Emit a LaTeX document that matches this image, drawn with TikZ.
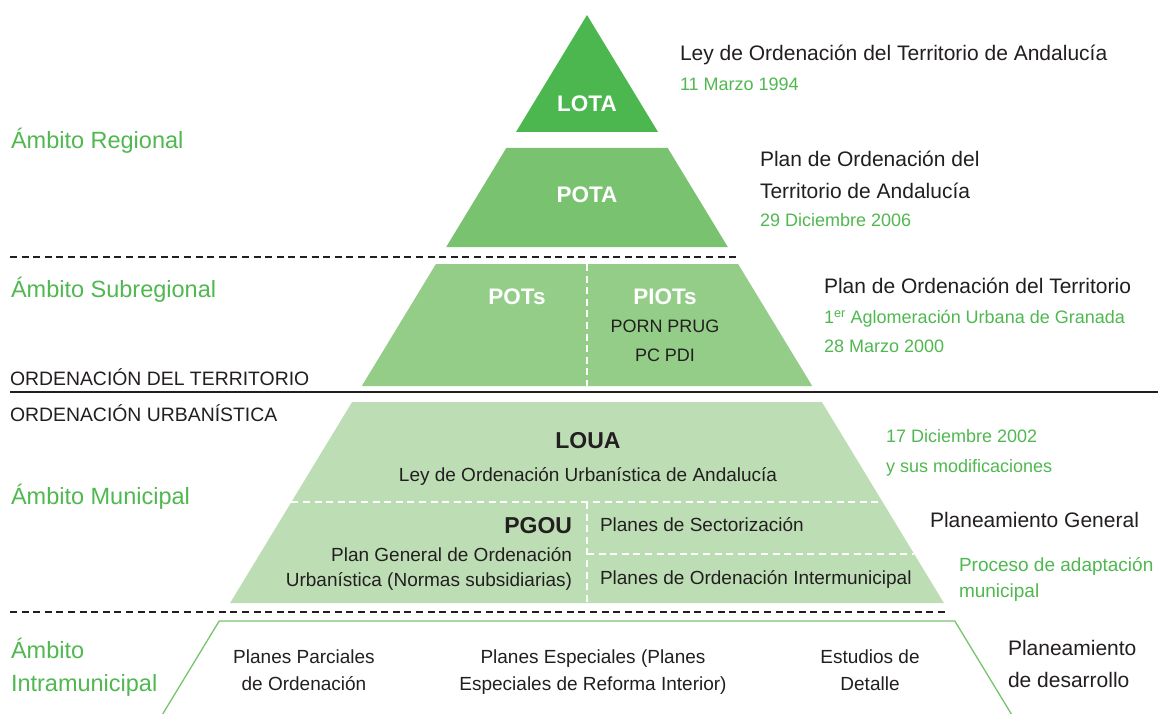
\documentclass[tikz,border=0pt]{standalone}
\usepackage{fontspec}
\setmainfont{Liberation Sans}
\definecolor{txt}{RGB}{35,31,32}
\definecolor{grn}{RGB}{80,184,80}
\definecolor{lota}{RGB}{77,183,79}
\definecolor{pota}{RGB}{121,195,112}
\definecolor{pots}{RGB}{148,205,136}
\definecolor{loua}{RGB}{189,222,181}
\definecolor{outl}{RGB}{120,196,110}
\tikzset{
  lbl/.style={inner sep=0pt, outer sep=0pt, text depth=0pt},
  rdark/.style={lbl, font=\fontsize{21}{25}\selectfont, text=txt, text height=15pt},
  rgreen/.style={lbl, font=\fontsize{18}{22}\selectfont, text=grn, text height=12.9pt},
  rgreenb/.style={lbl, font=\fontsize{19}{23}\selectfont, text=grn, text height=13.6pt},
  ambit/.style={lbl, font=\fontsize{23.5}{28}\selectfont, text=grn, text height=16.8pt},
  caps/.style={lbl, font=\fontsize{19.4}{23}\selectfont, text=txt, text height=13.9pt},
  body/.style={lbl, font=\fontsize{19}{23}\selectfont, text=txt, text height=13.6pt},
  boldw/.style={lbl, font=\fontsize{22.5}{26}\selectfont\bfseries, text=white, text height=16.1pt},
  boldd/.style={lbl, font=\fontsize{23}{27}\selectfont\bfseries, text=txt, text height=16.5pt},
  blackdash/.style={draw=txt, line width=1.6pt, dash pattern=on 7pt off 4.6pt},
  whitedash/.style={draw=white, line width=2pt, dash pattern=on 7pt off 4.6pt},
}
\begin{document}
\begin{tikzpicture}[x=1pt,y=-1pt]
\path[use as bounding box, fill=white] (0,0) rectangle (1158,714);

% pyramid shapes
\fill[lota] (587,15) -- (658.0,132) -- (516.0,132) -- cycle;
\fill[pota] (506.3,148) -- (667.7,148) -- (727.8,247) -- (446.2,247) -- cycle;
\fill[pots] (435.9,264) -- (738.1,264) -- (812.2,386) -- (361.8,386) -- cycle;
\fill[loua] (352.1,402) -- (821.9,402) -- (943.9,603) -- (230.1,603) -- cycle;
\draw[outl, line width=1.3pt] (162.7,714) -- (219.2,621) -- (954.8,621) -- (1011.3,714);

% white dashed dividers
\draw[whitedash] (587,264) -- (587,386);
\draw[whitedash] (291.4,502) -- (882.6,502);
\draw[whitedash] (587,502) -- (587,603);
\draw[whitedash] (587,554) -- (914.2,554);

% black separators
\draw[blackdash] (10,257) -- (737,257);
\draw[txt, line width=2.6pt] (10,392) -- (1158,392);
\draw[blackdash] (10,612) -- (948,612);

% labels inside pyramid
\node[boldw] (lota) at (587,103) {LOTA};
\node[boldw] (potaL) at (587,194.5) {POTA};
\node[boldw] (potsL) at (517,296) {POTs};
\node[boldw] (piots) at (665,296) {PIOTs};
\node[body, font=\fontsize{18}{22}\selectfont, text height=12.9pt] (porn) at (665,326.5) {PORN PRUG};
\node[body, font=\fontsize{18}{22}\selectfont, text height=12.9pt] (pcpdi) at (665,355.5) {PC PDI};
\node[boldd] (louaL) at (588,440.5) {LOUA};
\node[body] (leyU) at (588,475) {Ley de Ordenación Urbanística de Andalucía};
\node[boldd, anchor=east] (pgou) at (572,525) {PGOU};
\node[body, anchor=east] (pgou1) at (572,554.5) {Plan General de Ordenación};
\node[body, anchor=east] (pgou2) at (572,579.5) {Urbanística (Normas subsidiarias)};
\node[body, anchor=west] (sect) at (600,524.5) {Planes de Sectorización};
\node[body, anchor=west] (inter) at (600,577.5) {Planes de Ordenación Intermunicipal};

% bottom row
\node[body] (pp1) at (304,656.5) {Planes Parciales};
\node[body] (pp2) at (304,684) {de Ordenación};
\node[body] (pe1) at (593,656.5) {Planes Especiales (Planes};
\node[body] (pe2) at (593,684) {Especiales de Reforma Interior)};
\node[body] (ed1) at (870,656.5) {Estudios de};
\node[body] (ed2) at (870,684) {Detalle};

% left labels
\node[ambit, anchor=west] (ambReg) at (11,140) {Ámbito Regional};
\node[ambit, anchor=west] (ambSub) at (11,289) {Ámbito Subregional};
\node[ambit, anchor=west] (ambMun) at (11,496) {Ámbito Municipal};
\node[ambit, anchor=west] (ambInt1) at (11,650) {Ámbito};
\node[ambit, anchor=west] (ambInt2) at (11,683) {Intramunicipal};
\node[caps, anchor=west] (ordT) at (10,378.5) {ORDENACIÓN DEL TERRITORIO};
\node[caps, anchor=west] (ordU) at (10,415) {ORDENACIÓN URBANÍSTICA};

% right texts
\node[rdark, anchor=west] (r1) at (680,53.5) {Ley de Ordenación del Territorio de Andalucía};
\node[rgreen, anchor=west] (r1d) at (680,84) {11 Marzo 1994};
\node[rdark, anchor=west] (r2a) at (760,159.5) {Plan de Ordenación del};
\node[rdark, anchor=west] (r2b) at (760,190.5) {Territorio de Andalucía};
\node[rgreen, anchor=west] (r2d) at (760,220.5) {29 Diciembre 2006};
\node[rdark, anchor=west] (r3a) at (824,286) {Plan de Ordenación del Territorio};
\node[rgreen, anchor=west] (r3b) at (824,317) {1\textsuperscript{er} Aglomeración Urbana de Granada};
\node[rgreen, anchor=west] (r3d) at (824,346) {28 Marzo 2000};
\node[rgreen, anchor=west] (r4a) at (886,436.5) {17 Diciembre 2002};
\node[rgreen, anchor=west] (r4b) at (886,466) {y sus modificaciones};
\node[rdark, anchor=west] (r5) at (930,520) {Planeamiento General};
\node[rgreenb, anchor=west] (r6a) at (959,565) {Proceso de adaptación};
\node[rgreenb, anchor=west] (r6b) at (959,591) {municipal};
\node[rdark, anchor=west] (r7a) at (1008,648) {Planeamiento};
\node[rdark, anchor=west] (r7b) at (1008,680) {de desarrollo};
\end{tikzpicture}
\end{document}
